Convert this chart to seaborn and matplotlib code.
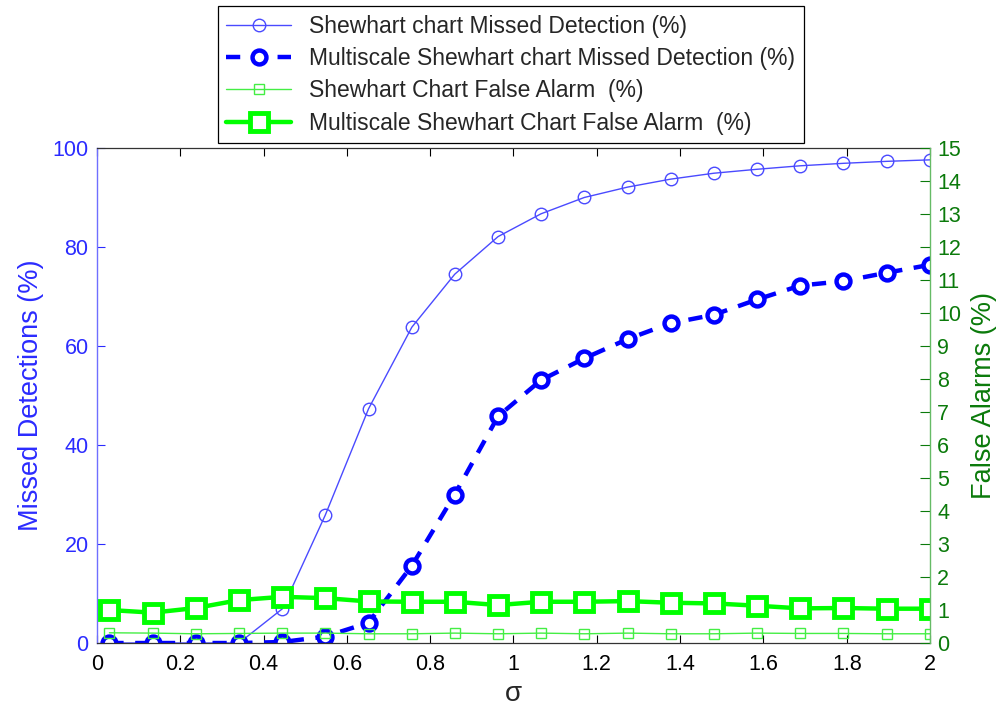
import matplotlib
matplotlib.use("Agg")
import matplotlib.pyplot as plt
import seaborn as sns
from matplotlib.ticker import FormatStrFormatter

sns.set_style("white")
plt.rcParams["font.family"] = ["Liberation Sans", "DejaVu Sans"]

# noise level sigma
sigma = [0.03, 0.134, 0.237, 0.341, 0.445, 0.548, 0.652, 0.756, 0.859, 0.963,
         1.066, 1.170, 1.274, 1.377, 1.481, 1.585, 1.688, 1.792, 1.896, 2.0]

# missed detections (%) - left axis
shewhart_md = [0.0, 0.0, 0.0, 0.0, 6.9, 25.8, 47.3, 63.8, 74.5, 82.1,
               86.7, 90.0, 92.1, 93.7, 94.9, 95.7, 96.4, 96.9, 97.3, 97.6]
multiscale_md = [0.0, 0.0, 0.0, 0.0, 0.2, 1.3, 4.1, 15.6, 30.0, 45.8,
                 53.1, 57.5, 61.4, 64.6, 66.3, 69.4, 72.2, 73.1, 74.8, 76.4]

# false alarms (%) - right axis
shewhart_fa = [0.31, 0.30, 0.28, 0.29, 0.30, 0.30, 0.28, 0.28, 0.30, 0.28,
               0.30, 0.28, 0.30, 0.28, 0.28, 0.30, 0.29, 0.29, 0.28, 0.28]
multiscale_fa = [1.00, 0.92, 1.06, 1.30, 1.40, 1.36, 1.26, 1.25, 1.25, 1.15,
                 1.25, 1.25, 1.27, 1.22, 1.20, 1.13, 1.05, 1.06, 1.04, 1.04]

legend_labels = ["Shewhart chart Missed Detection (%)",
                 "Multiscale Shewhart chart Missed Detection (%)",
                 "Shewhart Chart False Alarm  (%)",
                 "Multiscale Shewhart Chart False Alarm  (%)"]

blue_light = "#4a4aff"
blue = "#0000ff"
green = "#00ff00"
green_light = "#44ee44"
blue_axis = "#2b2bff"
green_axis = "#0b7a0b"

fig = plt.figure(figsize=(9.99, 7.07), dpi=100)
ax = fig.add_axes([0.097, 0.0905, 0.834, 0.7002])
ax2 = ax.twinx()

sns.lineplot(x=sigma, y=shewhart_md, ax=ax, color=blue_light, linewidth=1.0,
             marker="o", markersize=9, markerfacecolor="none",
             markeredgecolor=blue_light, markeredgewidth=1.0,
             label=legend_labels[0], legend=False)
sns.lineplot(x=sigma, y=multiscale_md, ax=ax, color=blue, linewidth=3.2,
             linestyle=(0, (3.2, 2.6)), marker="o", markersize=10,
             markerfacecolor="white", markeredgecolor=blue, markeredgewidth=3.2,
             label=legend_labels[1], legend=False)
sns.lineplot(x=sigma, y=shewhart_fa, ax=ax2, color=green_light, linewidth=1.0,
             marker="s", markersize=7.5, markerfacecolor="none",
             markeredgecolor=green_light, markeredgewidth=1.0,
             label=legend_labels[2], legend=False)
sns.lineplot(x=sigma, y=multiscale_fa, ax=ax2, color=green, linewidth=3.2,
             marker="s", markersize=13, markerfacecolor="white",
             markeredgecolor=green, markeredgewidth=3.5,
             label=legend_labels[3], legend=False)

ax.set_xlim(0, 2)
ax.set_ylim(0, 100)
ax2.set_ylim(0, 15)

ax.set_xticks([i * 0.2 for i in range(11)])
ax.xaxis.set_major_formatter(FormatStrFormatter("%g"))
ax.set_yticks(range(0, 101, 20))
ax2.set_yticks(range(0, 16))

ax.tick_params(axis="x", direction="in", length=6, top=True, bottom=True,
               labelsize=15.5, colors="black", pad=8)
ax.tick_params(axis="y", direction="in", length=6, left=True, right=False,
               labelsize=15.5, colors=blue_axis, pad=6)
ax2.tick_params(axis="y", direction="in", length=7, right=True, left=False,
                labelsize=15.5, colors=green_axis, pad=5)
ax2.tick_params(axis="x", top=False, bottom=False)

for name in ["top", "bottom"]:
    ax.spines[name].set_color("#333333")
    ax.spines[name].set_linewidth(0.9)
    ax2.spines[name].set_visible(False)
ax.spines["left"].set_color("#6f6fff")
ax.spines["left"].set_linewidth(1.0)
ax.spines["right"].set_visible(False)
ax2.spines["left"].set_visible(False)
ax2.spines["right"].set_color("#66bb66")
ax2.spines["right"].set_linewidth(1.0)

ax.set_xlabel("σ", fontsize=20, labelpad=4)
ax.set_ylabel("Missed Detections (%)", fontsize=19.5, color=blue_axis, labelpad=6)
ax2.set_ylabel("False Alarms (%)", fontsize=19.5, color=green_axis, labelpad=7)

handles = ax.get_lines()[:2] + ax2.get_lines()[:2]
leg = fig.legend(handles, legend_labels, loc="upper left",
                 bbox_to_anchor=(0.218, 0.991), fontsize=16.5, frameon=True,
                 fancybox=False, edgecolor="black", framealpha=1,
                 handlelength=2.8, handletextpad=0.8, labelspacing=0.4,
                 borderpad=0.38, borderaxespad=0)
leg.get_frame().set_linewidth(0.9)

fig.savefig("out.png", dpi=100)
